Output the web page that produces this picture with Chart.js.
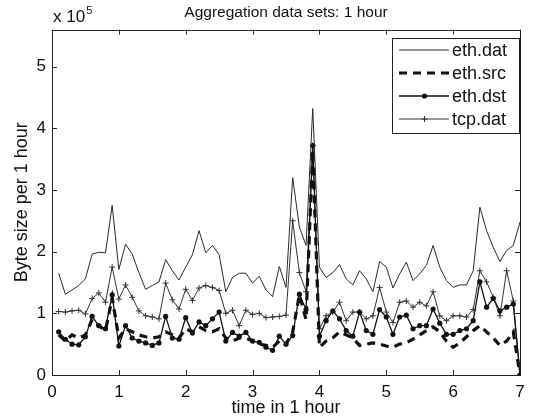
<!DOCTYPE html>
<html>
<head>
<meta charset="utf-8">
<script src="https://cdn.jsdelivr.net/npm/chart.js@4.4.1/dist/chart.umd.min.js"></script>
<style>
html,body{margin:0;padding:0;background:#fff;}
canvas{display:block;}
</style>
</head>
<body>
<canvas id="c" width="533" height="420"></canvas>
<script>
// time in hours (0.1 .. 7.0)
const timeHours = [0.1,0.2,0.3,0.4,0.5,0.6,0.7,0.8,0.9,1.0,1.1,1.2,1.3,1.4,1.5,1.6,1.7,1.8,1.9,2.0,2.1,2.2,2.3,2.4,2.5,2.6,2.7,2.8,2.9,3.0,3.1,3.2,3.3,3.4,3.5,3.6,3.7,3.8,3.9,4.0,4.1,4.2,4.3,4.4,4.5,4.6,4.7,4.8,4.9,5.0,5.1,5.2,5.3,5.4,5.5,5.6,5.7,5.8,5.9,6.0,6.1,6.2,6.3,6.4,6.5,6.6,6.7,6.8,6.9,7.0];
// byte size per hour, in units of 1e5
const ethDat = [1.65,1.31,1.38,1.45,1.56,1.96,1.99,1.98,2.75,1.71,2.12,1.96,1.66,1.39,1.45,1.51,1.87,1.69,1.54,1.75,1.95,2.34,1.98,2.10,1.95,1.35,1.58,1.65,1.65,1.49,1.60,1.38,1.27,1.76,1.42,3.20,2.40,2.10,4.32,1.75,1.58,1.66,1.79,1.56,1.46,1.69,1.56,1.35,1.84,1.75,1.41,1.64,1.83,1.53,1.64,1.78,2.10,1.75,1.53,1.42,1.46,1.46,1.69,2.72,2.34,2.07,1.84,2.02,2.10,2.48];
const ethSrc = [0.65,0.55,0.65,0.60,0.65,0.90,0.80,0.72,1.25,0.60,0.75,0.70,0.65,0.62,0.60,0.62,0.70,0.65,0.60,0.75,0.70,0.78,0.72,0.70,0.75,0.60,0.55,0.60,0.60,0.55,0.50,0.48,0.45,0.55,0.50,0.70,1.30,0.90,3.65,0.45,0.55,0.60,0.70,0.65,0.60,0.48,0.50,0.52,0.50,0.47,0.45,0.50,0.52,0.58,0.65,0.72,0.78,0.70,0.55,0.45,0.52,0.62,0.72,0.80,0.70,0.60,0.48,0.55,0.70,0.00];
const ethDst = [0.70,0.58,0.50,0.49,0.62,0.95,0.80,0.75,1.30,0.47,0.80,0.60,0.55,0.52,0.48,0.52,0.95,0.60,0.58,0.93,0.68,0.86,0.80,0.91,1.02,0.55,0.69,0.63,0.69,0.55,0.53,0.45,0.40,0.63,0.50,0.64,1.31,1.06,3.72,0.63,0.88,1.04,0.91,0.72,0.63,1.02,0.72,0.66,1.06,0.94,0.66,0.94,0.97,0.75,0.80,0.80,1.07,0.84,0.66,0.66,0.72,0.75,0.88,1.51,1.10,1.24,1.04,1.10,1.15,0.00];
const tcpDat = [1.03,1.02,1.04,1.05,0.99,1.24,1.33,1.18,1.75,1.23,1.46,1.26,1.04,0.96,0.94,0.91,1.49,1.22,1.07,1.39,1.21,1.41,1.45,1.42,1.37,1.00,1.05,0.80,1.05,0.98,1.00,0.93,0.94,0.95,0.97,2.50,1.66,1.35,3.72,0.75,0.96,1.02,1.18,0.88,1.02,1.02,0.91,0.96,1.42,1.02,0.85,1.18,1.20,1.10,1.18,1.12,1.35,0.96,0.88,0.96,0.96,0.94,1.06,1.69,1.51,1.26,0.96,1.69,1.20,0.00];
const xTicks = [0,1,2,3,4,5,6,7];
const yTicks = [0,1,2,3,4,5];
const seriesNames = ['eth.dat','eth.src','eth.dst','tcp.dat'];

const FONT = '"Liberation Sans", Arial, Helvetica, sans-serif';
const pts = arr => timeHours.map((t,i)=>({x:t,y:arr[i]}));

const datasets = [
  {label:seriesNames[0], data:pts(ethDat), borderColor:'#2a2a2a', borderWidth:1, pointRadius:0, tension:0},
  {label:seriesNames[1], data:pts(ethSrc), borderColor:'#111', borderWidth:3.2, borderDash:[8,6], pointRadius:0, tension:0},
  {label:seriesNames[2], data:pts(ethDst), borderColor:'#111', borderWidth:1.3, pointRadius:2.6, pointStyle:'circle', pointBackgroundColor:'#111', pointBorderColor:'#111', pointBorderWidth:0, tension:0},
  {label:seriesNames[3], data:pts(tcpDat), borderColor:'#333', borderWidth:1, pointRadius:3, pointStyle:'cross', pointBorderColor:'#333', pointBorderWidth:1, tension:0}
];

const framePlugin = {
  id:'frame',
  afterDraw(chart){
    const ctx = chart.ctx, a = chart.chartArea;
    const xs = chart.scales.x, ys = chart.scales.y;
    ctx.save();
    ctx.strokeStyle = '#222'; ctx.lineWidth = 1;
    ctx.strokeRect(Math.round(a.left)+0.5, Math.round(a.top)+0.5, Math.round(a.right-a.left), Math.round(a.bottom-a.top));
    ctx.beginPath();
    const L = 5;
    xTicks.forEach(v=>{
      const p = Math.round(xs.getPixelForValue(v))+0.5;
      ctx.moveTo(p,a.bottom); ctx.lineTo(p,a.bottom-L);
      ctx.moveTo(p,a.top); ctx.lineTo(p,a.top+L);
    });
    yTicks.forEach(v=>{
      const p = Math.round(ys.getPixelForValue(v))+0.5;
      ctx.moveTo(a.left,p); ctx.lineTo(a.left+L,p);
      ctx.moveTo(a.right,p); ctx.lineTo(a.right-L,p);
    });
    ctx.stroke();
    // exponent label
    ctx.fillStyle = '#111';
    ctx.textBaseline = 'alphabetic'; ctx.textAlign = 'left';
    ctx.font = '17px ' + FONT;
    ctx.fillText('x 10', a.left + 1, a.top - 8);
    const w = ctx.measureText('x 10').width;
    ctx.font = '11px ' + FONT;
    ctx.fillText('5', a.left + 1 + w + 1, a.top - 16);
    // legend
    const bx = 392, by = 38, bw = 127, bh = 95;
    ctx.fillStyle = '#fff';
    ctx.fillRect(bx, by, bw, bh);
    ctx.strokeStyle = '#222'; ctx.lineWidth = 1;
    ctx.strokeRect(bx+0.5, by+0.5, bw, bh);
    const rows = [50, 73, 96, 119];
    chart.data.datasets.forEach((ds,i)=>{
      const y = rows[i];
      ctx.save();
      ctx.strokeStyle = ds.borderColor; ctx.lineWidth = ds.borderWidth;
      ctx.setLineDash(ds.borderDash || []);
      ctx.beginPath(); ctx.moveTo(399,y); ctx.lineTo(449,y); ctx.stroke();
      ctx.setLineDash([]);
      if (ds.pointStyle === 'circle') {
        ctx.fillStyle = ds.pointBackgroundColor;
        ctx.beginPath(); ctx.arc(424.5,y,2.6,0,Math.PI*2); ctx.fill();
      } else if (ds.pointStyle === 'cross') {
        ctx.lineWidth = 1;
        ctx.beginPath(); ctx.moveTo(424.5,y-3); ctx.lineTo(424.5,y+3); ctx.moveTo(421.5,y); ctx.lineTo(427.5,y); ctx.stroke();
      }
      ctx.restore();
      ctx.fillStyle = '#111';
      ctx.font = '18px ' + FONT;
      ctx.textBaseline = 'middle'; ctx.textAlign = 'left';
      ctx.fillText(ds.label, 452, y+1);
    });
    ctx.restore();
  }
};

new Chart(document.getElementById('c'), {
  type:'line',
  data:{datasets},
  options:{
    responsive:false,
    animation:false,
    layout:{padding:{left:0,right:13,top:0,bottom:0}},
    plugins:{
      legend:{display:false},
      tooltip:{enabled:false},
      title:{display:true, text:'Aggregation data sets: 1 hour', fullSize:false, color:'#111',
             font:{family:FONT, size:15.5, weight:'normal', lineHeight:1.2}, padding:{top:3,bottom:8}}
    },
    scales:{
      x:{type:'linear', min:0, max:7,
         afterBuildTicks:s=>{s.ticks = xTicks.map(v=>({value:v}));},
         afterFit:s=>{s.height = 45;},
         grid:{display:false, drawTicks:false}, border:{display:false},
         ticks:{color:'#111', font:{family:FONT,size:17}, padding:7, maxRotation:0, autoSkip:false},
         title:{display:true, text:'time in 1 hour', color:'#111', font:{family:FONT,size:18}, padding:{top:0,bottom:1}}
      },
      y:{type:'linear', min:0, max:5.6,
         afterBuildTicks:s=>{s.ticks = yTicks.map(v=>({value:v}));},
         afterFit:s=>{s.width = 52;},
         grid:{display:false, drawTicks:false}, border:{display:false},
         ticks:{color:'#111', font:{family:FONT,size:17}, padding:6},
         title:{display:true, text:'Byte size per 1 hour', color:'#111', font:{family:FONT,size:18}, padding:{top:11,bottom:0}}
      }
    }
  },
  plugins:[framePlugin]
});
</script>
</body>
</html>
